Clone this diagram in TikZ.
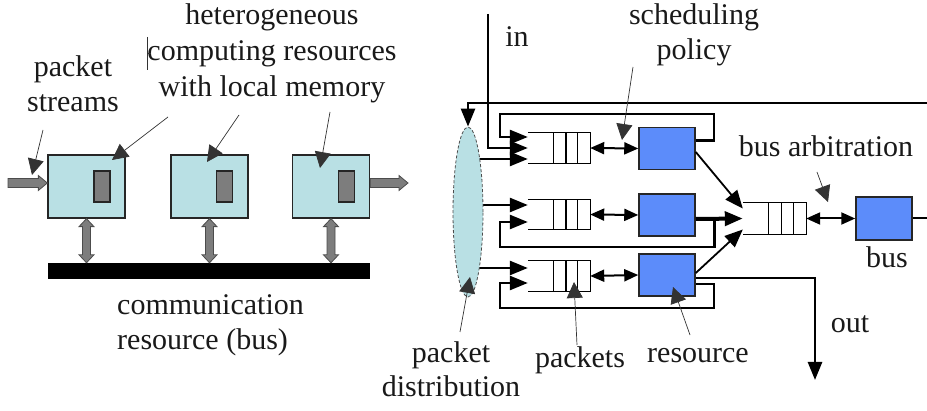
\documentclass[tikz,border=0pt]{standalone}
\usepackage{fontspec}
\setmainfont{Liberation Serif}
\usetikzlibrary{arrows.meta,shapes.geometric,calc,backgrounds}
\definecolor{cyanbox}{RGB}{185,224,228}
\definecolor{memgray}{RGB}{125,125,125}
\definecolor{resblue}{RGB}{92,140,250}
\newcommand\gharrow[2]{\draw[garrowline] let \p1=#1, \p2=#2 in
  (\x1,\y1-4.5pt) -- (\x2-9pt,\y1-4.5pt) -- (\x2-9pt,\y1-7.5pt) -- (\x2,\y1)
  -- (\x2-9pt,\y1+7.5pt) -- (\x2-9pt,\y1+4.5pt) -- (\x1,\y1+4.5pt) -- cycle;}
\newcommand\gvdarrow[2]{\draw[garrowline] let \p1=#1, \p2=#2 in
  (\x1,\y1) -- (\x1+7.5pt,\y1-8pt) -- (\x1+4pt,\y1-8pt) -- (\x1+4pt,\y2+8pt)
  -- (\x1+7.5pt,\y2+8pt) -- (\x1,\y2) -- (\x1-7.5pt,\y2+8pt) -- (\x1-4pt,\y2+8pt)
  -- (\x1-4pt,\y1-8pt) -- (\x1-7.5pt,\y1-8pt) -- cycle;}
\begin{document}
\begin{tikzpicture}[x=1pt,y=-1pt,
  font=\fontsize{30}{35}\selectfont,
  cbox/.style={draw=black!85,line width=1.3pt,fill=cyanbox,minimum width=77pt,minimum height=63pt,inner sep=0},
  mem/.style={draw=black!85,line width=1.1pt,fill=memgray,minimum width=16pt,minimum height=31pt,inner sep=0},
  resbox/.style={draw=black!85,line width=1.5pt,fill=resblue,minimum width=56pt,minimum height=42pt,inner sep=0},
  queue/.style={minimum width=62pt,minimum height=30pt,inner sep=0},
  ell/.style={ellipse,draw=black!70,densely dashed,line width=0.8pt,fill=cyanbox,minimum width=30pt,minimum height=170pt,inner sep=0},
  garrowline/.style={draw=black!70,line width=0.8pt,fill=memgray,line join=miter},
  lbl/.style={text=black!90,inner sep=0,align=center},
  thinarr/.style={line width=0.7pt,draw=black!80,-{Triangle[length=16pt,width=16pt]}},
  conn/.style={line width=2.6pt,-{Triangle[length=18pt,width=14pt]}},
  conn2/.style={line width=1.8pt,-{Triangle[length=18pt,width=15pt]}},
  dbl/.style={line width=2pt,{Triangle[length=14pt,width=12pt]}-{Triangle[length=14pt,width=12pt]}},
  qline/.style={line width=1.3pt}
]
\useasboundingbox (0,0) rectangle (927,411);

% ---------- left part ----------
\node[cbox] (c1) at (86.5,186.5) {};
\node[cbox] (c2) at (209.5,186.5) {};
\node[cbox] (c3) at (331,186.5) {};
\node[mem] (m1) at (102,186.5) {};
\node[mem] (m2) at (224.5,186.5) {};
\node[mem] (m3) at (346.5,186.5) {};
\node[fill=black,minimum width=322pt,minimum height=16pt,inner sep=0] (bar) at (209,271) {};
\coordinate (inStart) at (8,183);
\coordinate (outEndL) at (408,183);
\gharrow{(inStart)}{(c1.west |- inStart)}
\gharrow{(c3.east |- outEndL)}{(outEndL)}
\gvdarrow{(c1.south)}{(c1.south |- bar.north)}
\gvdarrow{(c2.south)}{(c2.south |- bar.north)}
\gvdarrow{(c3.south)}{(c3.south |- bar.north)}

\node[lbl,anchor=base] (ps) at (73,112) {packet\\streams};
\node[lbl,anchor=base,font=\fontsize{30}{36}\selectfont] (het) at (272,97) {heterogeneous\\computing resources\\with local memory};
\node[lbl,anchor=base west,align=left] (comm) at (117,350) {communication\\resource (bus)};
\draw[line width=0.9pt,black!80] (147,37) -- (147,70) (147,53) -- (151,53);

\coordinate (psA) at (43,130);  \coordinate (psB) at (32,175);
\coordinate (hA) at (168,117);  \coordinate (hB) at (112,160);
\coordinate (hC) at (239,115);  \coordinate (hD) at (207,162);
\coordinate (hE) at (330,112);  \coordinate (hF) at (320,168);
\draw[thinarr] (psA) -- (psB);
\draw[thinarr] (hA) -- (hB);
\draw[thinarr] (hC) -- (hD);
\draw[thinarr] (hE) -- (hF);

% ---------- right part ----------
\node[ell] (E) at (468,212) {};
\node[queue] (q1) at (559,148) {};
\node[queue] (q2) at (559,214.5) {};
\node[queue] (q3) at (559,276) {};
\node[queue,minimum width=63pt,minimum height=31pt] (qb) at (774.5,218.5) {};
\node[resbox] (r1) at (667,148.5) {};
\node[resbox] (r2) at (667,215) {};
\node[resbox] (r3) at (667,275) {};
\node[resbox,minimum height=43pt] (bus) at (884,218.5) {};

\foreach \q in {q1,q2,q3,qb}{
  \draw[qline] (\q.north west) -- (\q.north east) -- (\q.south east) -- (\q.south west);
  \foreach \f in {0.41,0.61,0.80}
    \draw[qline] ($(\q.north west)!\f!(\q.north east)$) -- ($(\q.south west)!\f!(\q.south east)$);
}

\coordinate (inTop) at (488,14);
\coordinate (topR) at (927,103);
\coordinate (busOut) at (927,218.5);
\coordinate (outEnd) at (815,380);

\draw[conn] (inTop) |- (q1.west);
\draw[conn] (topR) -| (E.north);
\begin{scope}[on background layer]
  \draw[conn] (E.center |- {$(q1.west)+(0,11)$}) -- ($(q1.west)+(0,11)$);
  \draw[conn] (E.center |- {$(q2.west)+(0,-9.5)$}) -- ($(q2.west)+(0,-9.5)$);
  \draw[conn] (E.center |- {$(q3.west)+(0,-8)$}) -- ($(q3.west)+(0,-8)$);
\end{scope}

% feedback loops
\draw[conn] ($(r1.east)+(0,-8)$) -| (714,114) -| (500,137) -- ($(q1.west)+(0,-11)$);
\draw[conn] ($(r2.east)+(19,4)$) |- (500,247) |- ($(q2.west)+(0,7.5)$);
\draw[conn] ($(r3.east)+(0,9)$) -| (714,308) -| (500,283) -- ($(q3.west)+(0,7)$);

% queue <-> resource
\draw[dbl] (q1.east) -- (r1.west);
\draw[dbl] (q2.east) -- (r2.west);
\draw[dbl] (q3.east) -- (r3.west);

% resources -> bus queue
\draw[conn2] ($(r1.east)+(0,3.5)$) -- ($(qb.west)+(0,-10)$);
\draw[conn,line width=4pt] ($(r2.east)+(0,4)$) -- (qb.west);
\draw[conn2] ($(r3.east)+(0,-2)$) -- ($(qb.west)+(0,11)$);
\draw[conn] ($(r3.east)+(0,3)$) -| (outEnd);

\draw[dbl] (qb.east) -- (bus.west);
\draw[line width=2pt] (bus.east) -- (busOut);

% labels
\node[lbl,anchor=base] (inl) at (517,47) {in};
\node[lbl,anchor=base] (sp) at (694,60) {scheduling\\policy};
\node[lbl,anchor=base] (ba) at (826,157) {bus arbitration};
\node[lbl,anchor=base] (busl) at (887,268) {bus};
\node[lbl,anchor=base] (outl) at (850,333) {out};
\node[lbl,anchor=base] (resl) at (698,363) {resource};
\node[lbl,anchor=base] (pkts) at (580,368) {packets};
\node[lbl,anchor=base,font=\fontsize{30}{34}\selectfont] (pd) at (451,397) {packet\\distribution};

\coordinate (spA) at (633,67);  \coordinate (spB) at (622,140);
\coordinate (baA) at (817,172); \coordinate (baB) at (828,202);
\coordinate (pdA) at (460,332); \coordinate (pdB) at (470,277);
\coordinate (pkA) at (577,345); \coordinate (pkB) at (574,282);
\coordinate (reA) at (690,335); \coordinate (reB) at (673,287);
\draw[thinarr] (spA) -- (spB);
\draw[thinarr] (baA) -- (baB);
\draw[thinarr] (pdA) -- (pdB);
\draw[thinarr] (pkA) -- (pkB);
\draw[thinarr] (reA) -- (reB);
\end{tikzpicture}
\end{document}
